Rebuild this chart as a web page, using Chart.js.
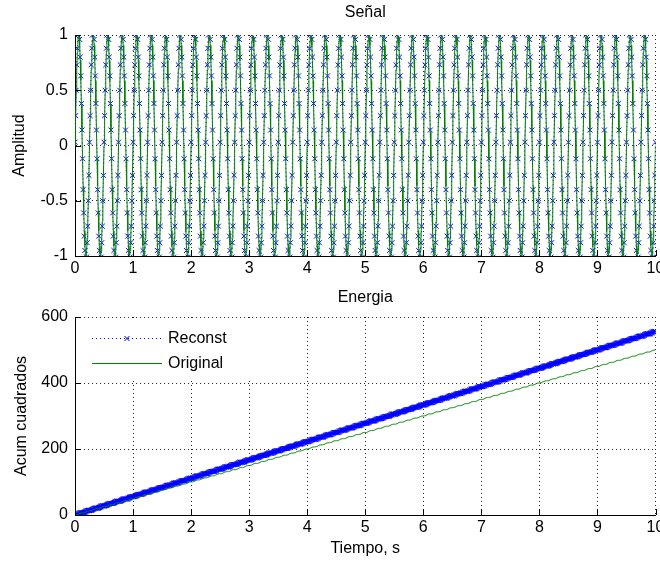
<!DOCTYPE html>
<html>
<head>
<meta charset="utf-8">
<title>Señal / Energia</title>
<script src="https://cdn.jsdelivr.net/npm/chart.js@4.4.1/dist/chart.umd.min.js"></script>
<style>
    html, body { margin: 0; padding: 0; background: #fff; }
    #wrap { position: relative; width: 660px; height: 562px; overflow: hidden; }
    canvas { display: block; }
</style>
</head>
<body>
<div id="wrap">
    <canvas id="signalChart" width="660" height="285"></canvas>
    <canvas id="energyChart" width="660" height="277"></canvas>
</div>
<script>
// sampling of the 4 Hz tone, one period is 25 samples
const sampleStep = 0.01;
const cycles = 40;
const originalCycle = [0, 0.249, 0.482, 0.685, 0.844, 0.951, 0.998, 0.982, 0.905, 0.771, 0.588, 0.368, 0.125,
    -0.125, -0.368, -0.588, -0.771, -0.905, -0.982, -0.998, -0.951, -0.844, -0.685, -0.482, -0.249];
const reconstCycle = [0.03, 0.27, 0.50, 0.73, 0.88, 1.00, 1.06, 1.03, 0.96, 0.80, 0.63, 0.38, 0.14,
    -0.12, -0.40, -0.61, -0.82, -0.95, -1.04, -1.05, -1.01, -0.88, -0.73, -0.50, -0.27];

const timeTicks = [0, 1, 2, 3, 4, 5, 6, 7, 8, 9, 10];
const amplitudeTicks = [-1, -0.5, 0, 0.5, 1];
const energyTicks = [0, 200, 400, 600];

const seriesNames = ['Reconst', 'Original'];
const BLUE = '#0000ff';
const GREEN = '#008000';
const FONT = '"Liberation Sans", Arial, Helvetica, sans-serif';

Chart.defaults.font.family = FONT;
Chart.defaults.font.size = 16;
Chart.defaults.color = '#000';

// lay the periods end to end
function buildSignal(cycle) {
    const pts = [];
    const n = cycle.length * cycles;
    for (let i = 0; i <= n; i++) {
        pts.push({ x: +(i * sampleStep).toFixed(2), y: cycle[i % cycle.length] });
    }
    return pts;
}

// running sum of squares
function cumulativeEnergy(signal) {
    let acc = 0;
    return signal.map(p => {
        acc += p.y * p.y;
        return { x: p.x, y: acc };
    });
}

const reconstSignal = buildSignal(reconstCycle);
const originalSignal = buildSignal(originalCycle);

// matlab style ticks pointing into the axes
const inwardTicks = {
    id: 'inwardTicks',
    afterDatasetsDraw(chart) {
        const { ctx, chartArea, scales } = chart;
        ctx.save();
        ctx.strokeStyle = '#000';
        ctx.lineWidth = 1;
        ctx.beginPath();
        scales.x.ticks.forEach(t => {
            const px = Math.round(scales.x.getPixelForValue(t.value)) + 0.5;
            ctx.moveTo(px, chartArea.bottom);
            ctx.lineTo(px, chartArea.bottom - 6);
        });
        scales.y.ticks.forEach(t => {
            const py = Math.round(scales.y.getPixelForValue(t.value)) + 0.5;
            ctx.moveTo(chartArea.left, py);
            ctx.lineTo(chartArea.left + 6, py);
        });
        ctx.stroke();
        ctx.restore();
    }
};

// small legend box in the upper left corner of the energy axes
const boxLegend = {
    id: 'boxLegend',
    afterDraw(chart) {
        const { ctx, chartArea: a } = chart;
        ctx.save();
        ctx.fillStyle = '#fff';
        ctx.fillRect(a.left + 3, a.top + 3, 178, 61);
        chart.data.datasets.forEach((ds, i) => {
            const y = a.top + 21.5 + i * 25;
            const x0 = a.left + 17, x1 = a.left + 87;
            ctx.strokeStyle = ds.borderColor;
            ctx.lineWidth = 1;
            ctx.setLineDash(ds.borderDash || []);
            ctx.beginPath();
            ctx.moveTo(x0, y);
            ctx.lineTo(x1, y);
            ctx.stroke();
            ctx.setLineDash([]);
            if (ds.pointRadius > 0) {
                const xm = (x0 + x1) / 2;
                ctx.strokeStyle = ds.pointBorderColor;
                ctx.beginPath();
                ctx.moveTo(xm - 2.5, y - 2.5); ctx.lineTo(xm + 2.5, y + 2.5);
                ctx.moveTo(xm - 2.5, y + 2.5); ctx.lineTo(xm + 2.5, y - 2.5);
                ctx.stroke();
            }
            ctx.fillStyle = '#000';
            ctx.font = '16px ' + FONT;
            ctx.textBaseline = 'middle';
            ctx.fillText(ds.label, x1 + 6, y);
        });
        ctx.restore();
    }
};

function reconstDataset(data) {
    return {
        label: seriesNames[0],
        data: data,
        order: 2,
        borderColor: BLUE,
        borderWidth: 1,
        borderDash: [1, 3],
        pointStyle: 'crossRot',
        pointRadius: 3.5,
        pointBorderColor: BLUE,
        pointBorderWidth: 1,
        pointHoverRadius: 0,
        tension: 0
    };
}

function originalDataset(data) {
    return {
        label: seriesNames[1],
        data: data,
        order: 1,
        borderColor: GREEN,
        borderWidth: 1,
        pointRadius: 0,
        tension: 0
    };
}

function axesOptions(cfg) {
    return {
        responsive: false,
        animation: false,
        events: [],
        layout: { padding: 0 },
        plugins: {
            legend: { display: false },
            tooltip: { enabled: false },
            title: {
                display: true,
                text: cfg.title,
                fullSize: false,
                font: { weight: 'normal', size: 16 },
                padding: cfg.titlePadding
            }
        },
        scales: {
            x: {
                type: 'linear',
                min: 0,
                max: 10,
                afterBuildTicks: s => { s.ticks = timeTicks.map(v => ({ value: v })); },
                afterFit: s => { s.height = cfg.xHeight; s.paddingLeft = 0; s.paddingRight = 0; },
                ticks: { padding: 3, maxRotation: 0, autoSkip: false, callback: v => String(v) },
                grid: { color: 'rgba(0,0,0,0.85)', lineWidth: 1, drawTicks: false },
                border: { color: '#000', width: 1, dash: [1, 3] },
                title: cfg.xTitle ? {
                    display: true, text: cfg.xTitle, padding: { top: 0, bottom: 4 }
                } : { display: false }
            },
            y: {
                type: 'linear',
                min: cfg.yMin,
                max: cfg.yMax,
                afterBuildTicks: s => { s.ticks = cfg.yTicks.map(v => ({ value: v })); },
                afterFit: s => { s.width = 75; s.paddingTop = 0; s.paddingBottom = 0; },
                ticks: { padding: 7, callback: v => String(v) },
                grid: { color: 'rgba(0,0,0,0.85)', lineWidth: 1, drawTicks: false },
                border: { color: '#000', width: 1, dash: [1, 3] },
                title: {
                    display: true, text: cfg.yTitle, padding: { top: cfg.yTitlePad, bottom: 0 }
                }
            }
        }
    };
}

new Chart(document.getElementById('signalChart'), {
    type: 'line',
    data: { datasets: [reconstDataset(reconstSignal), originalDataset(originalSignal)] },
    options: axesOptions({
        title: 'Señal',
        titlePadding: { top: 3, bottom: 12.8 },
        xHeight: 29,
        yMin: -1, yMax: 1,
        yTicks: amplitudeTicks,
        yTitle: 'Amplitud',
        yTitlePad: 10
    }),
    plugins: [inwardTicks]
});

new Chart(document.getElementById('energyChart'), {
    type: 'line',
    data: { datasets: [reconstDataset(cumulativeEnergy(reconstSignal)), originalDataset(cumulativeEnergy(originalSignal))] },
    options: axesOptions({
        title: 'Energia',
        titlePadding: { top: 3, bottom: 9.8 },
        xHeight: 47,
        xTitle: 'Tiempo, s',
        yMin: 0, yMax: 600,
        yTicks: energyTicks,
        yTitle: 'Acum cuadrados',
        yTitlePad: 12
    }),
    plugins: [inwardTicks, boxLegend]
});
</script>
</body>
</html>
